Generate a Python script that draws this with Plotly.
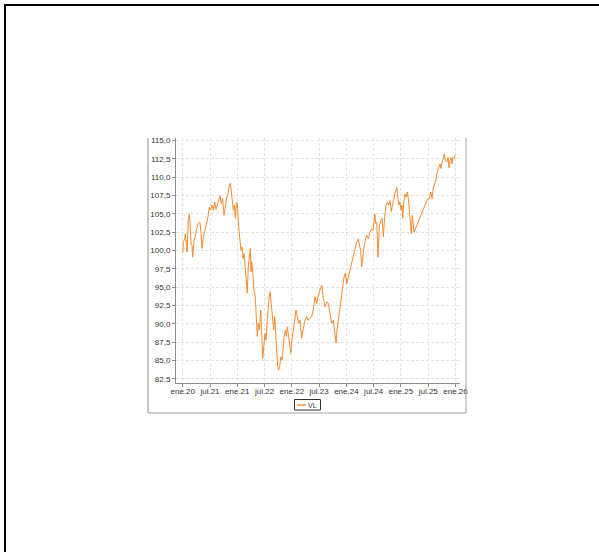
import pandas as pd
import plotly.graph_objects as go

# ---------------- data ----------------
dates_2020 = ["2020-01-02","2020-01-06","2020-01-17","2020-01-22","2020-01-30","2020-02-05","2020-02-15","2020-02-23","2020-02-29",
              "2020-03-08","2020-03-16","2020-03-21","2020-04-01","2020-04-11","2020-04-22","2020-05-05","2020-05-17","2020-05-25",
              "2020-06-04","2020-06-15","2020-06-28","2020-07-12","2020-07-22","2020-08-02","2020-08-13","2020-08-23","2020-09-03",
              "2020-09-14","2020-09-25","2020-10-05","2020-10-16","2020-10-27","2020-11-06","2020-11-17","2020-11-28","2020-12-08",
              "2020-12-20","2020-12-30"]
vl_2020 = [99.7,101.2,101.6,102.3,100.9,99.8,104.1,105.0,103.7,
           100.9,100.7,99.1,101.4,101.9,103.0,103.7,103.9,102.8,
           100.3,101.9,102.8,103.7,104.6,105.9,105.5,106.2,105.5,
           106.6,105.6,106.2,107.1,107.5,106.4,107.1,104.8,106.2,
           107.3,107.7]

dates_2021 = ["2021-01-09","2021-01-18","2021-01-26","2021-02-03","2021-02-11","2021-02-19","2021-02-27","2021-03-07","2021-03-15",
              "2021-03-26","2021-04-05","2021-04-13","2021-04-22","2021-04-30","2021-05-08","2021-05-16","2021-05-24","2021-06-03",
              "2021-06-11","2021-06-19","2021-06-27","2021-07-03","2021-07-08","2021-07-17","2021-07-27","2021-08-06","2021-08-18",
              "2021-08-22","2021-08-31","2021-09-08","2021-09-19","2021-09-27","2021-10-05","2021-10-13","2021-10-23","2021-10-31",
              "2021-11-11","2021-11-22","2021-12-03","2021-12-13","2021-12-24"]
vl_2021 = [108.9,109.2,108.0,106.6,105.5,106.2,104.4,106.6,106.4,
           103.2,101.4,100.0,100.5,98.9,99.6,98.2,96.0,94.2,
           97.8,99.4,100.3,97.1,98.5,97.0,94.6,93.7,90.5,
           88.3,90.1,89.2,91.9,88.7,85.3,86.9,88.7,87.8,
           91.0,93.2,94.4,92.8,91.4]

dates_2022 = ["2022-01-01","2022-01-09","2022-01-17","2022-01-25","2022-02-02","2022-02-10","2022-02-18","2022-02-27","2022-03-09",
              "2022-03-17","2022-03-25","2022-04-05","2022-04-13","2022-04-21","2022-04-29","2022-05-07","2022-05-18","2022-05-28",
              "2022-06-08","2022-06-19","2022-06-29","2022-07-10","2022-07-21","2022-08-01","2022-08-13","2022-08-25","2022-09-10",
              "2022-09-23","2022-10-06","2022-10-20","2022-11-03","2022-11-15","2022-11-29","2022-12-13","2022-12-26"]
vl_2022 = [89.2,91.0,88.3,85.1,84.2,83.7,84.2,85.5,85.1,
           86.4,88.3,89.2,88.3,89.6,88.3,86.9,86.0,87.8,
           89.2,90.5,91.9,91.0,90.1,90.5,88.0,89.2,90.5,
           91.0,90.5,90.8,91.0,91.9,93.7,92.8,94.0]

dates_2023 = ["2023-01-08","2023-01-22","2023-02-04","2023-02-18","2023-03-03","2023-03-16","2023-03-30","2023-04-12","2023-04-25",
              "2023-05-09","2023-05-17","2023-05-25","2023-06-04","2023-06-18","2023-07-02","2023-07-10","2023-07-20","2023-07-31",
              "2023-08-11","2023-08-24","2023-09-06","2023-09-20","2023-10-09","2023-10-19","2023-10-30","2023-11-12","2023-11-20",
              "2023-12-01","2023-12-09","2023-12-17","2023-12-28"]
vl_2023 = [94.6,95.3,93.5,92.3,93.0,92.8,91.4,90.1,90.5,
           88.3,87.4,89.2,90.5,92.8,94.0,95.5,96.4,96.9,
           95.5,96.4,97.3,98.2,99.6,100.5,101.2,101.6,100.7,
           100.0,97.8,99.1,100.5]

dates_2024 = ["2024-01-07","2024-01-19","2024-02-01","2024-02-14","2024-02-28","2024-03-12","2024-03-23","2024-03-31","2024-04-08",
              "2024-04-18","2024-04-29","2024-05-10","2024-05-21","2024-05-31","2024-06-11","2024-06-22","2024-07-02","2024-07-13",
              "2024-07-24","2024-08-03","2024-08-15","2024-08-25","2024-09-04","2024-09-16","2024-09-24","2024-10-02","2024-10-12",
              "2024-10-20","2024-10-28","2024-11-03","2024-11-11","2024-11-19","2024-11-29","2024-12-10","2024-12-21","2024-12-29"]
vl_2024 = [101.4,102.1,101.6,102.5,103.0,102.8,105.0,103.7,103.9,
           99.1,103.2,104.1,104.4,101.9,104.6,106.2,106.6,106.2,
           106.8,105.3,106.4,107.3,108.0,108.6,107.5,106.2,106.6,
           105.5,106.2,104.4,106.6,107.7,107.3,108.0,106.6,105.0]

dates_2025 = ["2025-01-06","2025-01-11","2025-01-19","2025-01-27","2025-02-02","2025-05-20","2025-06-05","2025-06-16","2025-06-26",
              "2025-07-07","2025-07-18","2025-07-28","2025-08-03","2025-08-19","2025-08-30","2025-09-07","2025-09-15","2025-09-25",
              "2025-10-03","2025-10-11","2025-10-25","2025-11-02","2025-11-10","2025-11-18","2025-11-26","2025-12-04","2025-12-12",
              "2025-12-20","2025-12-28"]
vl_2025 = [103.2,102.3,104.8,103.7,102.5,107.0,107.1,108.0,107.1,
           108.6,109.1,109.6,110.5,111.4,111.8,111.2,112.1,112.5,
           113.2,112.3,112.1,112.7,111.3,112.3,112.7,111.8,112.7,
           112.5,113.0]

tick_labels = ["ene.20", "jul.21", "ene.21", "jul.22", "ene.22", "jul.23",
               "ene.24", "jul.24", "ene.25", "jul.25", "ene.26"]
series_name = "VL"

dates = dates_2020 + dates_2021 + dates_2022 + dates_2023 + dates_2024 + dates_2025
values = vl_2020 + vl_2021 + vl_2022 + vl_2023 + vl_2024 + vl_2025

# ticks evenly spaced between first and last label
t0 = pd.Timestamp("2020-01-01")
t1 = pd.Timestamp("2026-01-01")
n = len(tick_labels) - 1
tick_vals = [t0 + (t1 - t0) * k / n for k in range(n + 1)]

# ---------------- layout geometry ----------------
W, H = 599, 552
L, R, T, B = 176, 460, 138, 383   # plot area in page pixels


def px(x):
    return (x - L) / (R - L)


def py(y):
    return 1 - (y - T) / (B - T)


FONT = "Liberation Sans, Arial, sans-serif"
TXT = "#333333"
ORANGE = "#f58a2e"

fig = go.Figure()
fig.add_trace(go.Scatter(x=pd.to_datetime(dates), y=values, mode="lines", name=series_name,
                         line=dict(color=ORANGE, width=1), showlegend=False))

shapes = [
    # outer black frame (runs past the window on right/bottom)
    dict(type="rect", xref="paper", yref="paper", x0=px(5), x1=px(640), y0=py(5), y1=py(640),
         line=dict(color="#000000", width=2), layer="above"),
    # chart panel borders
    dict(type="line", xref="paper", yref="paper", x0=px(148), x1=px(148), y0=py(138), y1=py(413),
         line=dict(color="#c8c8c8", width=2)),
    dict(type="line", xref="paper", yref="paper", x0=px(466), x1=px(466), y0=py(138), y1=py(413),
         line=dict(color="#a0a0a0", width=1)),
    dict(type="line", xref="paper", yref="paper", x0=px(148), x1=px(466), y0=py(413), y1=py(413),
         line=dict(color="#a0a0a0", width=1)),
    # legend box
    dict(type="rect", xref="paper", yref="paper", x0=px(294.5), x1=px(320.5), y0=py(399.5), y1=py(410),
         line=dict(color="#333333", width=1), fillcolor="white"),
    dict(type="line", xref="paper", yref="paper", x0=px(297), x1=px(306), y0=py(405), y1=py(405),
         line=dict(color="#f7b07a", width=2)),
]

annotations = [
    dict(text=series_name, xref="paper", yref="paper", x=px(312.5), y=py(405), xanchor="center", yanchor="middle",
         showarrow=False, borderpad=0, font=dict(family=FONT, size=7, color=TXT)),
]

fig.update_layout(
    template="none",
    width=W, height=H,
    margin=dict(l=L, r=W - R, t=T, b=H - B, pad=0),
    paper_bgcolor="white", plot_bgcolor="white",
    separators=",.",
    font=dict(family=FONT, size=8, color=TXT),
    shapes=shapes, annotations=annotations,
    showlegend=False,
)
fig.update_xaxes(
    type="date", range=["2019-11-08", "2026-02-06"],
    tickmode="array", tickvals=tick_vals, ticktext=tick_labels,
    showline=True, linecolor="#8c8c8c", linewidth=1, mirror=False,
    ticks="outside", ticklen=3, tickcolor="#8c8c8c", tickwidth=1,
    ticklabelstandoff=-3,
    showgrid=True, gridcolor="#e3e3e3", griddash="3px,2px", gridwidth=1,
    zeroline=False, tickfont=dict(family=FONT, size=8, color=TXT),
)
fig.update_yaxes(
    range=[81.95, 115.35], tick0=82.5, dtick=2.5, tickformat=".1f",
    showline=True, linecolor="#8c8c8c", linewidth=1, mirror=False,
    ticks="outside", ticklen=3, tickcolor="#8c8c8c", tickwidth=1,
    showgrid=True, gridcolor="#e3e3e3", griddash="3px,2px", gridwidth=1,
    zeroline=False, tickfont=dict(family=FONT, size=8, color=TXT),
)

fig.write_html("out.html", config={"displayModeBar": False},
               post_script="document.body.style.margin='0';document.body.style.overflow='hidden';")
